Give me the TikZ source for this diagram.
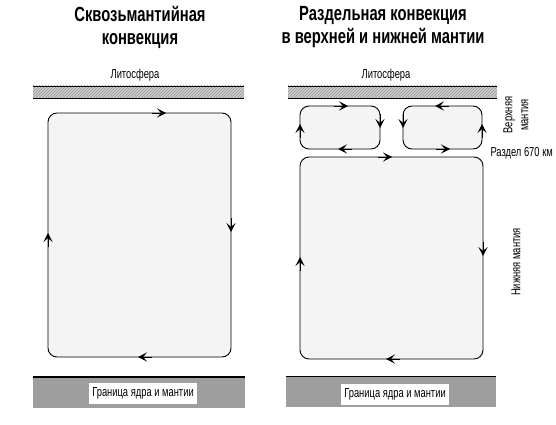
\documentclass[tikz,border=0pt]{standalone}
\usepackage{fontspec}
\setmainfont{Liberation Sans}[FakeStretch=0.72]
\usetikzlibrary{arrows.meta,patterns}

\tikzset{
  mantle/.style={draw=black, line width=0.9pt, fill=gray!9, rounded corners=9pt},
  flow/.style={-{Stealth[length=9pt,width=9pt,inset=4pt]}, line width=0.9pt},
  litho/.style={pattern=north east lines, pattern color=gray!85, preaction={fill=gray!38}},
  core/.style={fill=gray!76},
  lbl/.style={font=\fontsize{13}{16}\selectfont, inner sep=1pt},
  ttl/.style={font=\fontsize{20.5}{23}\selectfont\bfseries, align=center},
}

\begin{document}
\begin{tikzpicture}[x=1pt,y=-1pt]
    \useasboundingbox (0,0) rectangle (556,425);

    % Titles
    \node[ttl] (title1) at (140,27) {Сквозьмантийная\\конвекция};
    \node[ttl] (title2) at (383,27) {Раздельная конвекция\\в верхней и нижней мантии};

    % Lithosphere
    \node[lbl] (lith1) at (135,75) {Литосфера};
    \node[lbl] (lith2) at (386,75) {Литосфера};
    \fill[litho] (33,86) rectangle (244,98);
    \draw (33,86) -- (244,86);
    \draw (33,98) -- (244,98);
    \fill[litho] (288,86) rectangle (497,98);
    \draw (288,86) -- (497,86);
    \draw (288,98) -- (497,98);

    % Whole-mantle cell
    \draw[mantle] (48,113) rectangle (231,357);
    \draw[flow] (152,113) -- (166,113);
    \draw[flow] (231,218) -- (231,232);
    \draw[flow] (152,357) -- (138,357);
    \draw[flow] (48,247) -- (48,233);

    % Upper mantle cells
    \draw[mantle] (300,106) rectangle (380,149);
    \draw[flow] (334,106) -- (348,106);
    \draw[flow] (380,114) -- (380,128);
    \draw[flow] (352,149) -- (338,149);
    \draw[flow] (300,138) -- (300,124);
    \draw[mantle] (403,106) rectangle (482,149);
    \draw[flow] (449,106) -- (435,106);
    \draw[flow] (403,114) -- (403,128);
    \draw[flow] (436,149) -- (450,149);
    \draw[flow] (482,138) -- (482,124);

    % Lower mantle cell
    \draw[mantle] (300,157) rectangle (483,359);
    \draw[flow] (378,157) -- (392,157);
    \draw[flow] (483,242) -- (483,256);
    \draw[flow] (400,359) -- (386,359);
    \draw[flow] (300,271) -- (300,257);

    % Core-mantle boundary
    \fill[core] (33,377) rectangle (245,408);
    \draw[line width=1.4pt] (33,377) -- (245,377);
    \node[lbl, fill=white, inner sep=3pt, minimum height=21pt] (cmb1) at (143,393) {Граница ядра и мантии};
    \fill[core] (286,376) rectangle (496,407);
    \draw[line width=1pt] (286,376) -- (496,376);
    \node[lbl, fill=white, inner sep=3pt, minimum height=21pt] (cmb2) at (395,394) {Граница ядра и мантии};

    % Side labels
    \node[lbl, rotate=90, align=center] (upper) at (516,115) {Верхняя\\мантия};
    \node[lbl, anchor=east] (gap) at (554,153) {Раздел 670 км};
    \node[lbl, rotate=90] (lower) at (516,262) {Нижняя мантия};
\end{tikzpicture}
\end{document}
